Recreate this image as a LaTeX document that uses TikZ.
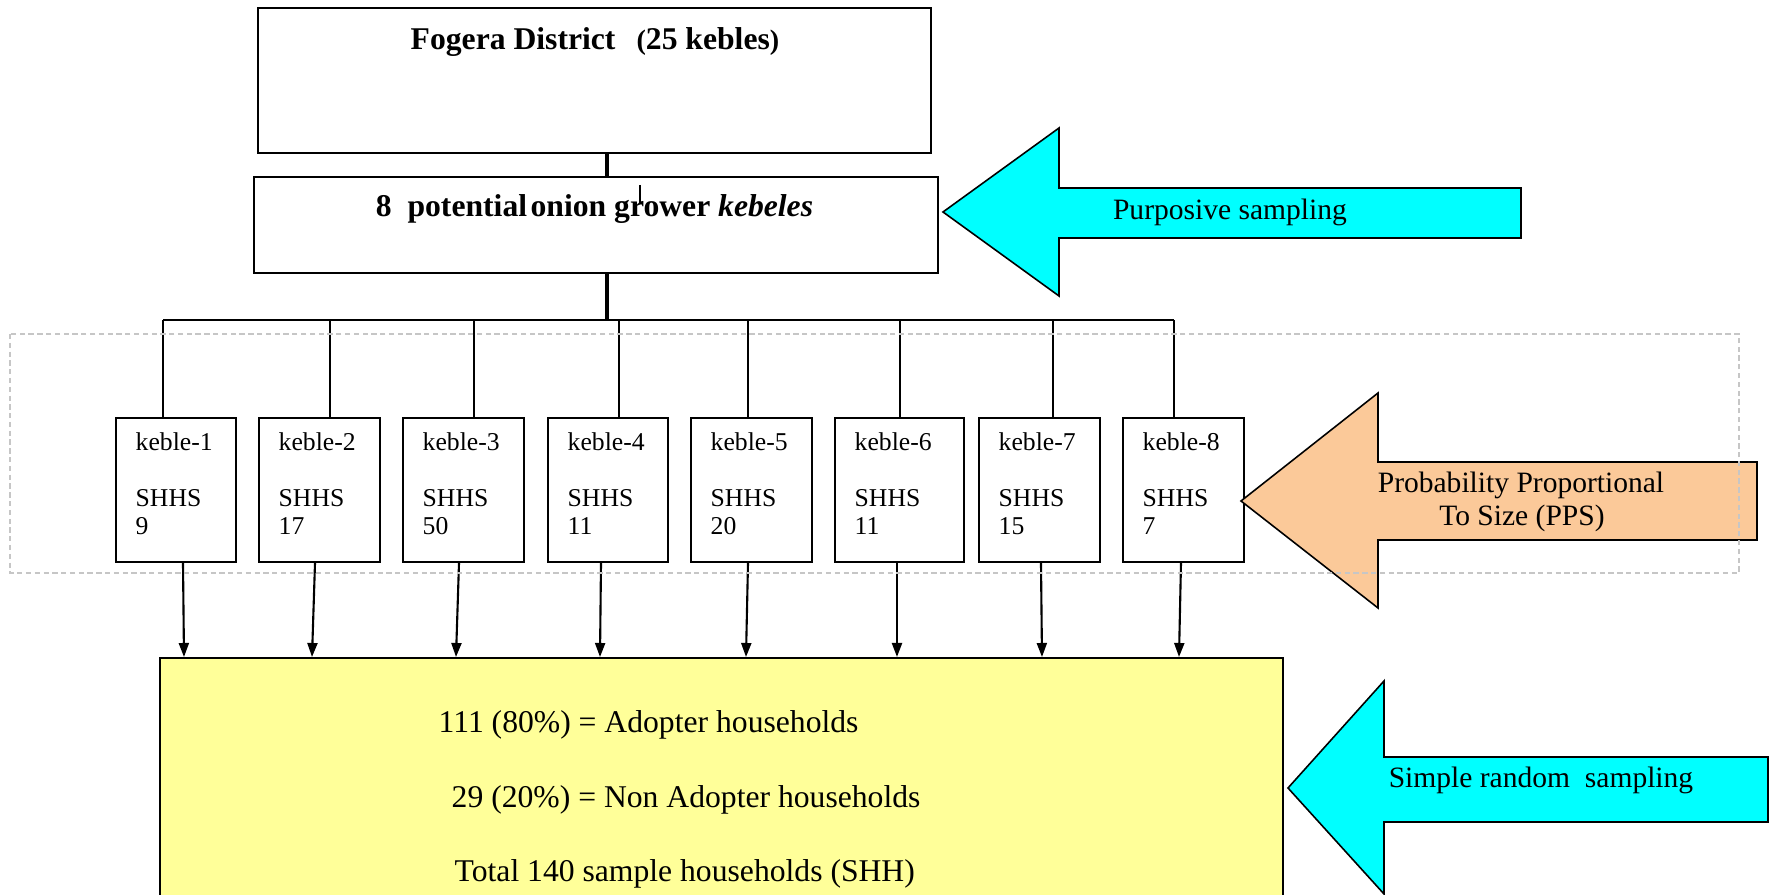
\documentclass[tikz,border=0pt]{standalone}
\usepackage{fontspec}
\setmainfont{Liberation Serif}
\usetikzlibrary{arrows.meta,positioning}
\definecolor{arrcyan}{RGB}{0,255,255}
\definecolor{arrpeach}{RGB}{251,201,153}
\definecolor{sumyellow}{RGB}{255,255,153}
\tikzset{
  tierbox/.style   = {draw, line width=0.7pt, inner sep=0pt},
  headtext/.style  = {font=\bfseries\fontsize{9}{11}\selectfont, inner sep=0pt},
  kebbox/.style    = {draw, line width=0.6pt, inner sep=0pt, minimum height=1.44cm},
  kebtext/.style   = {anchor=north west, inner sep=0pt, align=left,
                      font=\fontsize{7.3}{8}\selectfont},
  link/.style      = {line width=0.65pt},
  stemline/.style  = {line width=1pt},
  drop/.style      = {-{Triangle[length=1.4mm,width=1mm]}, line width=0.6pt},
  bigarrow/.style  = {draw=black, line width=0.45pt, line join=miter},
  arrtext/.style   = {font=\fontsize{8.4}{10}\selectfont, inner sep=0pt, anchor=base},
  sumtext/.style   = {font=\fontsize{9}{11}\selectfont, inner sep=0pt, anchor=base west},
  groupframe/.style= {gray!45, line width=0.4pt, dash pattern=on 1.5pt off 1pt}
}
\begin{document}
\begin{tikzpicture}[x=0.01cm, y=-0.01cm]
  \useasboundingbox (0,0) rectangle (1771,895);
  % district and kebele tiers
  \node[tierbox, minimum width=6.73cm, minimum height=1.45cm] (dist) at (594.5,80.5) {};
  \node[headtext, anchor=base] (distname) at (595,50)
       {Fogera District\hspace{6pt}{\fontsize{8}{10}\selectfont(}25 kebles{\fontsize{8}{10}\selectfont)}};
  \node[tierbox, minimum width=6.84cm, minimum height=0.96cm] (pot) at (596,225) {};
  \node[headtext, anchor=base] (potname) at (594.5,217)
       {8\hspace{4.5pt}potential\hspace{1pt}onion grower \textit{kebeles}};
  \coordinate (stem) at (607,320);
  \coordinate (tick) at (640,185);
  \draw[stemline] (dist.south -| stem) -- (pot.north -| stem);
  \draw[stemline] (pot.south -| stem) -- (stem);
  \draw[link] (tick) -- ++(0,18);
  \coordinate (busL) at (163,320);
  \coordinate (busR) at (1174,320);
  \draw[link] (busL) -- (busR);
  % sample box
  \node[draw, fill=sumyellow, line width=0.7pt, anchor=north west,
        minimum width=11.22cm, minimum height=3cm] (yel) at (159,657) {};
  \node[sumtext] (adopt) at (438,733) {111 (80\%) = Adopter households};
  \node[sumtext] (nonadopt) at (451,808) {29 (20\%) = Non Adopter households};
  \node[sumtext] (total) at (454,882) {Total 140 sample households (SHH)};
  % the eight kebeles
  \foreach \i/\xl/\w/\val/\xb/\xo/\xe in {1/115/1.20/9/163/183/184,
      2/258/1.21/17/330/315/312, 3/402/1.21/50/474/459/456,
      4/547/1.20/11/619/601/600, 5/690/1.21/20/748/748/746,
      6/834/1.29/11/900/897/897, 7/978/1.21/15/1053/1041/1042,
      8/1122/1.21/7/1174/1181/1179}{
    \node[kebbox, minimum width=\w cm, anchor=north west] (k\i) at (\xl,417) {};
    \node[kebtext] (t\i) at ([xshift=0.2cm,yshift=-0.15cm]k\i.north west)
         {keble-\i\\[8pt]SHHS\\\val};
    \coordinate (b\i) at (\xb,320);
    \coordinate (s\i) at (\xo,0);
    \coordinate (e\i) at (\xe,0);
    \draw[link] (b\i) -- (k\i.north -| b\i);
    \draw[drop] (k\i.south -| s\i) -- (yel.north -| e\i);
  }
  % sampling arrows
  \draw[bigarrow, fill=arrcyan] (943,212) -- (1059,128) -- (1059,188) -- (1521,188)
       -- (1521,238) -- (1059,238) -- (1059,296) -- cycle;
  \node[arrtext] (purp) at (1230,220) {Purposive sampling};
  \draw[bigarrow, fill=arrpeach] (1241,501) -- (1378,393) -- (1378,462) -- (1757,462)
       -- (1757,540) -- (1378,540) -- (1378,608) -- cycle;
  \node[arrtext] (ppsa) at (1521,493) {Probability Proportional};
  \node[arrtext] (ppsb) at (1522,526) {To Size (PPS)};
  \draw[bigarrow, fill=arrcyan] (1288,788) -- (1384,681) -- (1384,757) -- (1768,757)
       -- (1768,822) -- (1384,822) -- (1384,894) -- cycle;
  \node[arrtext] (srs) at (1541,788) {Simple random\ \ sampling};
  \draw[groupframe] (10,334) rectangle (1739,573);
\end{tikzpicture}
\end{document}
